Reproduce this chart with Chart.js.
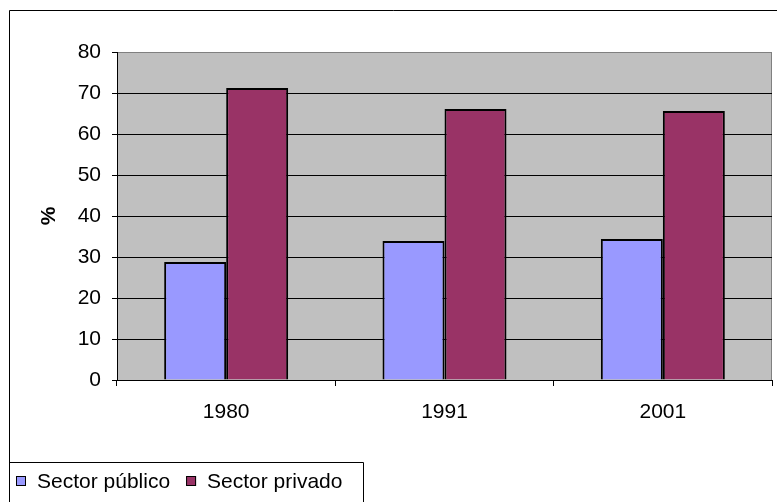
<!DOCTYPE html>
<html>
<head>
<meta charset="utf-8">
<script src="https://cdn.jsdelivr.net/npm/chart.js@4"></script>
<style>
  body { margin: 0; background: #fff; }
  canvas { display: block; }
</style>
</head>
<body>
<canvas id="chart__sector" width="777" height="502"></canvas>
<script>
const years = ['1980', '1991', '2001'];
const publico = [28.8, 33.9, 34.4];
const privado = [71.2, 66.1, 65.6];
const yTicks = [0, 10, 20, 30, 40, 50, 60, 70, 80];

const FONT = '"Liberation Sans", Arial, sans-serif';
const FSIZE = 21;

// plot background, outer frame and the legend box
const framePlugin = {
    id: 'frame',
    beforeDraw(chart) {
        const { ctx, chartArea: a } = chart;
        ctx.save();
        ctx.fillStyle = '#fff';
        ctx.fillRect(0, 0, chart.width, chart.height);
        ctx.fillStyle = '#C0C0C0';
        ctx.fillRect(a.left, a.top, a.right - a.left, a.bottom - a.top);
        ctx.strokeStyle = '#808080';
        ctx.lineWidth = 1;
        ctx.beginPath();
        ctx.moveTo(a.left, a.top + 0.5);
        ctx.lineTo(a.right - 0.5, a.top + 0.5);
        ctx.lineTo(a.right - 0.5, a.bottom);
        ctx.stroke();

        ctx.strokeStyle = '#000';
        ctx.beginPath();
        ctx.moveTo(777, 10.5);
        ctx.lineTo(9.5, 10.5);
        ctx.lineTo(9.5, 502);
        ctx.moveTo(9.5, 462.5);
        ctx.lineTo(363.5, 462.5);
        ctx.lineTo(363.5, 502);
        ctx.stroke();
        ctx.restore();
    },
    afterDraw(chart) {
        const { ctx } = chart;
        ctx.save();
        ctx.font = FSIZE + 'px ' + FONT;
        ctx.textBaseline = 'middle';
        let x = 16;
        const y = 481;
        chart.data.datasets.forEach(ds => {
            ctx.fillStyle = ds.backgroundColor;
            ctx.fillRect(x, y - 5, 10, 10);
            ctx.strokeStyle = '#000';
            ctx.lineWidth = 1;
            ctx.strokeRect(x + 0.5, y - 4.5, 9, 9);
            ctx.fillStyle = '#000';
            ctx.fillText(ds.label, x + 21, y + 1);
            x += 21 + ctx.measureText(ds.label).width + 16;
        });
        ctx.restore();
    }
};

const data = {
    labels: years,
    datasets: [{
            label: 'Sector público',
            backgroundColor: '#9999FF',
            borderColor: '#000',
            borderWidth: 2,
            data: publico,
        },
        {
            label: 'Sector privado',
            backgroundColor: '#993366',
            borderColor: '#000',
            borderWidth: 2,
            data: privado,
        },
    ]
};

const config = {
    type: 'bar',
    data: data,
    plugins: [framePlugin],
    options: {
        responsive: false,
        animation: false,
        layout: { padding: { top: 52, right: 5, bottom: 0, left: 0 } },
        datasets: {
            bar: { barPercentage: 1, categoryPercentage: 0.568 }
        },
        plugins: {
            legend: { display: false },
            tooltip: { enabled: false },
        },
        scales: {
            x: {
                afterFit: s => { s.height = 122; },
                grid: {
                    offset: true,
                    drawOnChartArea: false,
                    color: '#000',
                    tickLength: 6,
                },
                border: { color: '#000' },
                ticks: { color: '#000', padding: 14, font: { family: FONT, size: FSIZE } },
            },
            y: {
                min: 0,
                max: 80,
                afterFit: s => { s.width = 117; },
                afterBuildTicks: s => { s.ticks = yTicks.map(v => ({ value: v })); },
                grid: {
                    color: c => (c.tick && c.tick.value === 80 ? '#808080' : '#000'),
                    tickColor: '#000',
                    tickLength: 5,
                },
                border: { color: '#000' },
                ticks: { color: '#000', padding: 11, font: { family: FONT, size: FSIZE } },
                title: {
                    display: true,
                    text: '%',
                    color: '#000',
                    padding: { top: 37, bottom: 0 },
                    font: { family: FONT, size: FSIZE, weight: 'bold' },
                },
            },
        },
    },
};

const canvas = document.getElementById('chart__sector');
const chart = new Chart(canvas, config);
</script>
</body>
</html>
